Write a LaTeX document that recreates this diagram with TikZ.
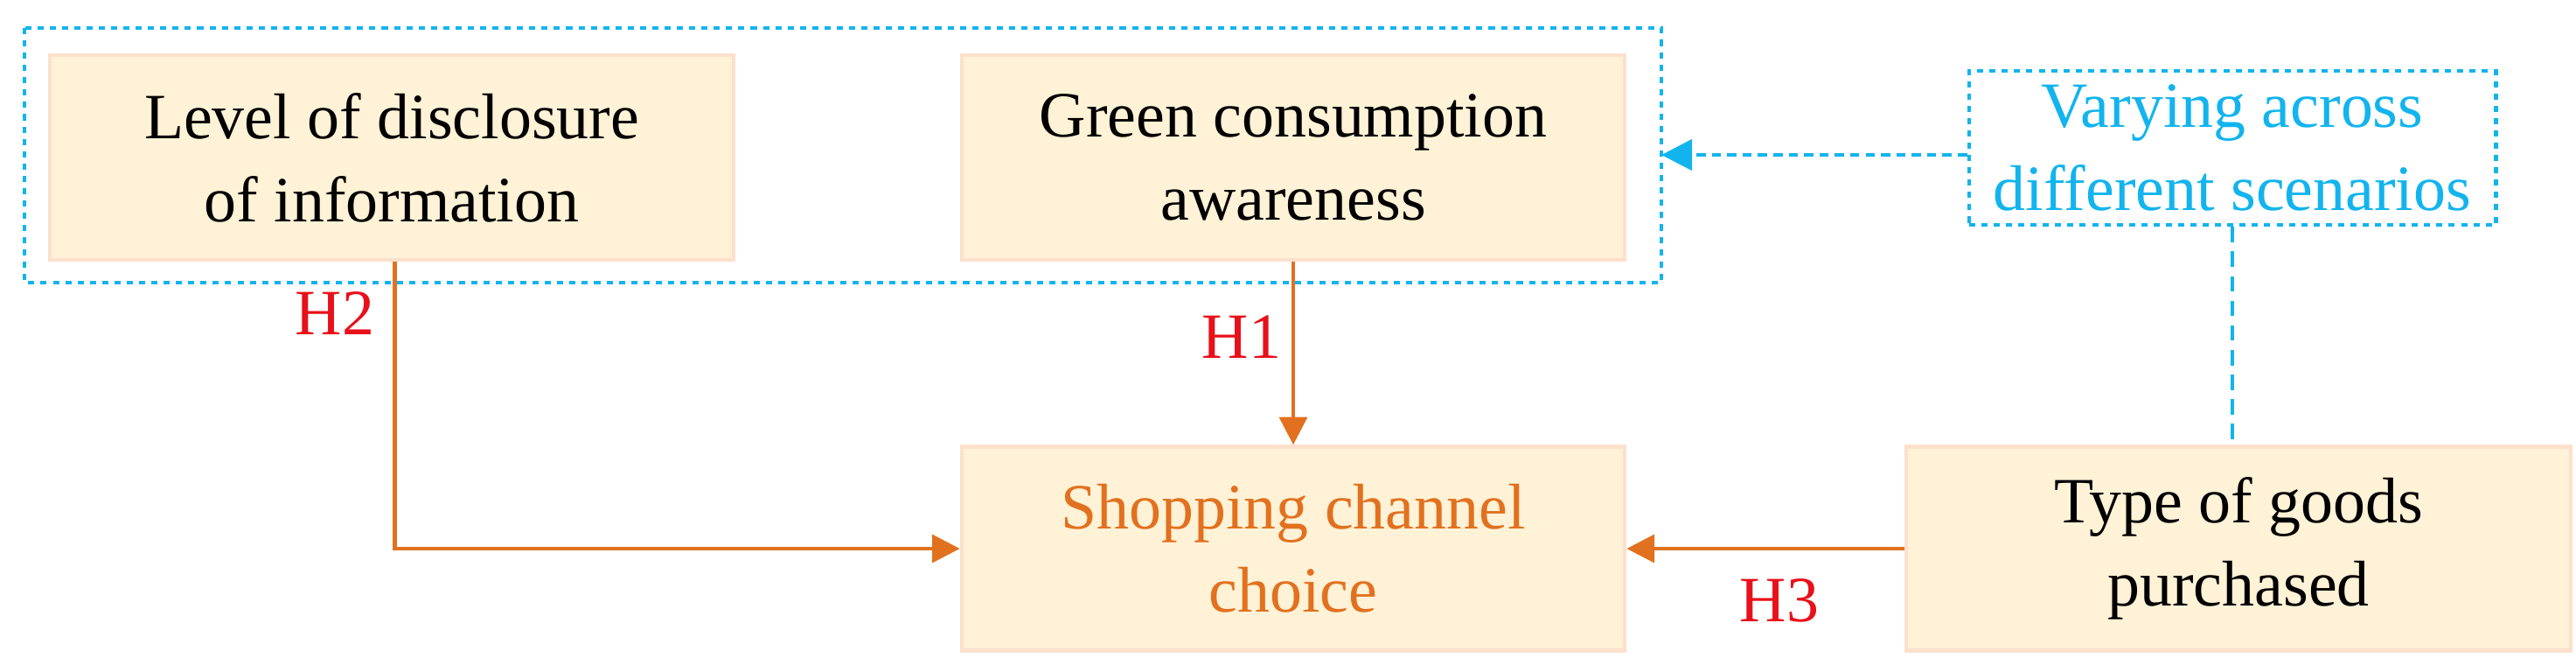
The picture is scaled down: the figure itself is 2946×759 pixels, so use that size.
\documentclass[tikz,border=0pt]{standalone}
\usepackage{fontspec}
\setmainfont{Liberation Serif}
\usetikzlibrary{arrows.meta}
\definecolor{boxfill}{HTML}{FFF2D6}
\definecolor{boxline}{HTML}{FCE0CC}
\definecolor{orng}{HTML}{E2711F}
\definecolor{hred}{HTML}{E8101A}
\definecolor{cyn}{HTML}{12B4EE}
\tikzset{
  fbox/.style={draw=boxline, line width=1.2pt, fill=boxfill, align=center, font=\fontsize{21}{27}\selectfont, inner sep=0pt, minimum height=6.6cm*0.3535},
  oarrow/.style={draw=orng, line width=1.3pt, -{Triangle[length=9pt,width=9pt]}},
  hlab/.style={text=hred, font=\fontsize{21}{26}\selectfont},
  cdash/.style={draw=cyn, line width=1.3pt, dash pattern=on 2pt off 2pt},
}
\begin{document}
\begin{tikzpicture}[x=0.01cm,y=-0.01cm]
\useasboundingbox (0,0) rectangle (2946,759);
\draw[cdash] (28,32) rectangle (1900,323);
\node[fbox, minimum width=7.82cm, minimum height=2.34cm] (lvl) at (448,180) {Level of disclosure\\of information};
\node[fbox, minimum width=7.58cm, minimum height=2.34cm] (grn) at (1479,180) {Green consumption\\awareness};
\node[fbox, minimum width=7.58cm, minimum height=2.33cm, text=orng] (shop) at (1479,627) {Shopping channel\\choice};
\node[fbox, minimum width=7.60cm, minimum height=2.33cm] (type) at (2560,627) {Type of goods\\purchased};
\node[cdash, align=center, text=cyn, font=\fontsize{21}{27}\selectfont, minimum width=6.02cm, minimum height=1.76cm, inner sep=0pt] (vary) at (2553,169) {Varying across\\different scenarios};
\coordinate (outr) at (1900,177);
\draw[cyn, line width=1.3pt, dash pattern=on 3pt off 2pt, -{Triangle[length=10pt,width=10pt]}] (vary.west |- outr) -- (outr);
\draw[cyn, line width=1.3pt, dash pattern=on 5pt off 3pt] (vary.south) -- (vary.south |- type.north);
\draw[oarrow] (grn.south) -- (shop.north);
\draw[oarrow] ([xshift=1pt]lvl.south) |- (shop.west);
\draw[oarrow] (type.west) -- (shop.east);
\node[hlab] (h1) at (1420,385) {H1};
\node[hlab] (h2) at (383,358) {H2};
\node[hlab] (h3) at (2035,686) {H3};
\end{tikzpicture}
\end{document}
